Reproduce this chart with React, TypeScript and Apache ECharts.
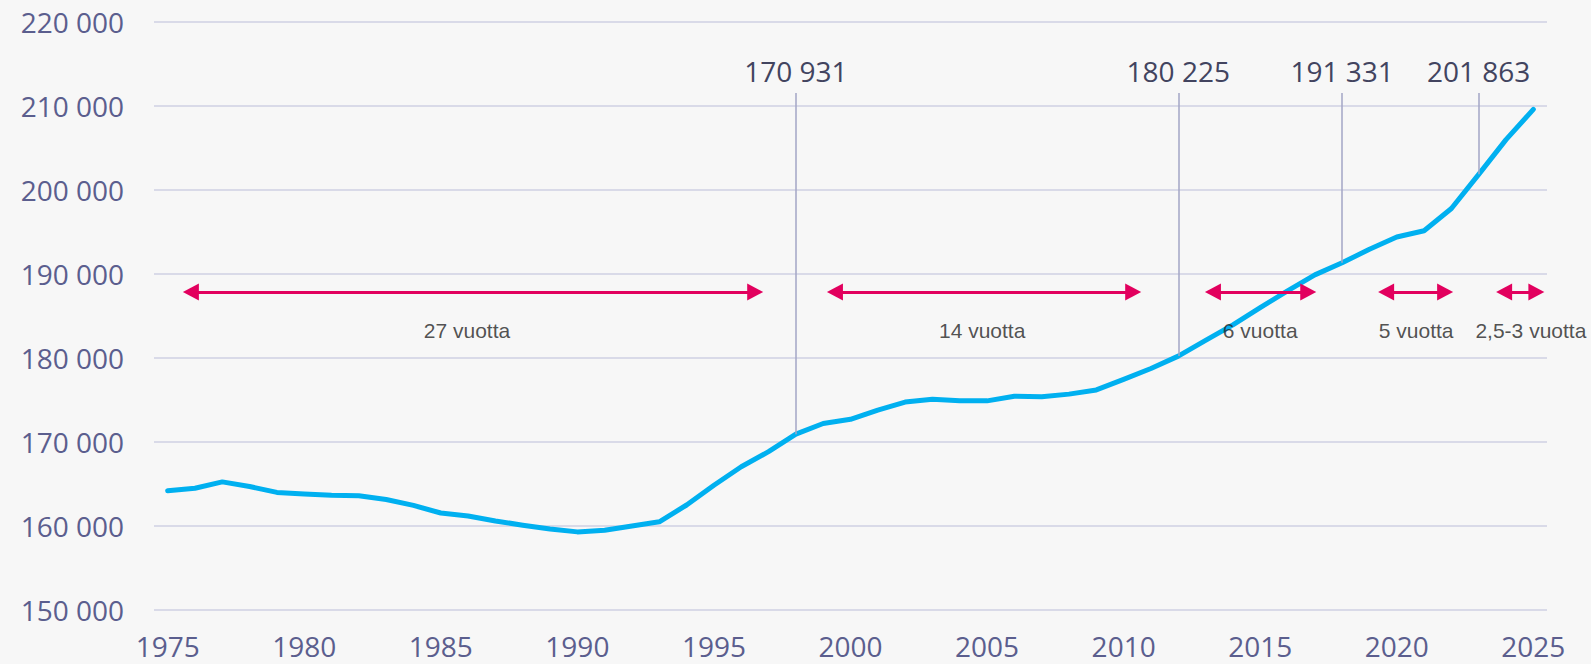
import React, { useEffect, useRef } from "react";
import * as echarts from "echarts";

const years = [
  1975, 1976, 1977, 1978, 1979, 1980, 1981, 1982, 1983, 1984, 1985, 1986, 1987,
  1988, 1989, 1990, 1991, 1992, 1993, 1994, 1995, 1996, 1997, 1998, 1999, 2000,
  2001, 2002, 2003, 2004, 2005, 2006, 2007, 2008, 2009, 2010, 2011, 2012, 2013,
  2014, 2015, 2016, 2017, 2018, 2019, 2020, 2021, 2022, 2023, 2024, 2025,
];
const population = [
  164200, 164500, 165250, 164700, 164000, 163800, 163650, 163600, 163150, 162450,
  161550, 161200, 160600, 160100, 159650, 159300, 159500, 160000, 160500, 162500,
  164850, 167050, 168850, 170931, 172200, 172700, 173800, 174750, 175100, 174900,
  174900, 175450, 175400, 175700, 176200, 177450, 178750, 180225, 182100, 183950,
  186000, 188000, 189900, 191331, 192950, 194400, 195150, 197800, 201863, 206000,
  209600,
];
const xTickLabels = [1975, 1980, 1985, 1990, 1995, 2000, 2005, 2010, 2015, 2020, 2025];

// highlighted values with leader lines
const highlightYears = [1998, 2012, 2018, 2023];
const highlightLabels = ["170 931", "180 225", "191 331", "201 863"];
const leaderTopValue = 211550;

// period arrows (in years along the x axis) and their texts
const arrowStart = [1975.85, 1999.43, 2013.27, 2019.61, 2023.93];
const arrowEnd = [1996.51, 2010.35, 2016.76, 2021.77, 2025.11];
const arrowValue = 187860;
const periodLabels = ["27 vuotta", "14 vuotta", "6 vuotta", "5 vuotta", "2,5-3 vuotta"];
const periodLabelX = [1985.96, 2004.82, 2015.0, 2020.71, 2024.91];
const periodLabelValue = 183330;

const fmt = (v: number) => String(v).replace(/\B(?=(\d{3})+(?!\d))/g, " ");

export default function App() {
  const ref = useRef<HTMLDivElement>(null);
  useEffect(() => {
    document.body.style.margin = "0";
    document.body.style.background = "#F7F7F7";
    const chart = echarts.init(ref.current!, undefined, { renderer: "svg" });
    const lineData = years.map((y, i) => [y, population[i]]);
    const leaderData = highlightYears.map((y, i) => [
      { coord: [y, population[years.indexOf(y)]], name: highlightLabels[i] },
      { coord: [y, leaderTopValue] },
    ]);
    const arrowData = arrowStart.map((s, i) => [
      { coord: [s, arrowValue] },
      { coord: [arrowEnd[i], arrowValue] },
    ]);
    chart.setOption({
      animation: false,
      backgroundColor: "#F7F7F7",
      grid: { left: 154, right: 44, top: 22, bottom: 54, containLabel: false },
      xAxis: {
        type: "value",
        min: 1974.5,
        max: 2025.5,
        axisLine: { show: false },
        axisTick: { show: false },
        splitLine: { show: false },
        axisLabel: {
          customValues: xTickLabels,
          formatter: (v: number) => String(v),
          color: "#5B5E8E",
          fontSize: 28,
          fontFamily: "Open Sans",
          margin: 22,
        },
      },
      yAxis: {
        type: "value",
        min: 150000,
        max: 220000,
        interval: 10000,
        axisLine: { show: false },
        axisTick: { show: false },
        splitLine: { lineStyle: { color: "#D9DAE8", width: 2 } },
        axisLabel: {
          formatter: (v: number) => fmt(v),
          color: "#5B5E8E",
          fontSize: 28,
          fontFamily: "Open Sans",
          margin: 30,
        },
      },
      series: [
        {
          type: "line",
          data: lineData,
          symbol: "none",
          silent: true,
          z: 3,
          lineStyle: { color: "#00B0F0", width: 5, cap: "round", join: "round" },
          markLine: {
            silent: true,
            symbol: "none",
            lineStyle: { color: "#A3A6C6", width: 1.5, type: "solid" },
            label: {
              show: true,
              position: "end",
              distance: 8,
              formatter: (p: any) => p.name,
              color: "#42445F",
              fontSize: 28,
              fontFamily: "Open Sans",
            },
            data: leaderData,
          },
        },
        {
          type: "line",
          data: [],
          silent: true,
          z: 4,
          markLine: {
            silent: true,
            symbol: ["triangle", "triangle"],
            symbolSize: [17, 16],
            lineStyle: { color: "#E2005E", width: 3, type: "solid" },
            itemStyle: { color: "#E2005E" },
            label: { show: false },
            data: arrowData,
          },
        },
        {
          type: "scatter",
          silent: true,
          z: 5,
          symbolSize: 1,
          itemStyle: { color: "rgba(0,0,0,0)" },
          label: {
            show: true,
            position: "inside",
            formatter: (p: any) => p.name,
            color: "#262626",
            fontSize: 21,
            fontFamily: "Liberation Sans",
          },
          data: periodLabelX.map((x, i) => ({
            value: [x, periodLabelValue],
            name: periodLabels[i],
          })),
        },
      ],
    });
    return () => chart.dispose();
  }, []);
  return (
    <div
      ref={ref}
      style={{ position: "absolute", left: 0, top: 0, width: 1591, height: 664, background: "#F7F7F7" }}
    />
  );
}
